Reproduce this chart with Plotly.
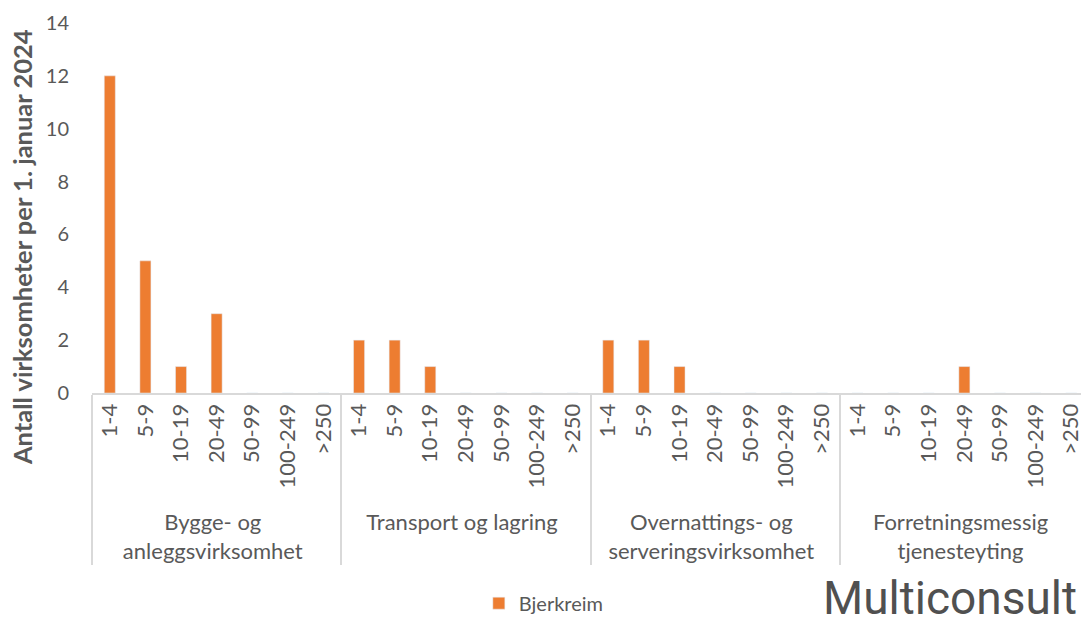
import plotly.graph_objects as go

# Data
bransjer = [
    "Bygge- og<br>anleggsvirksomhet",
    "Transport og lagring",
    "Overnattings- og<br>serveringsvirksomhet",
    "Forretningsmessig<br>tjenesteyting",
]
storrelser = ["1-4", "5-9", "10-19", "20-49", "50-99", "100-249", ">250"]
bygge = [12, 5, 1, 3, 0, 0, 0]
transport = [2, 2, 1, 0, 0, 0, 0]
overnatting = [2, 2, 1, 0, 0, 0, 0]
forretning = [0, 0, 0, 1, 0, 0, 0]
y_ticks = [0, 2, 4, 6, 8, 10, 12, 14]

verdier = bygge + transport + overnatting + forretning
gruppe = [b for b in bransjer for _ in storrelser]
kategori = storrelser * len(bransjer)

grå = "#595959"
font = "Lato, Open Sans, sans-serif"

fig = go.Figure()
fig.add_trace(go.Bar(
    x=[gruppe, kategori], y=verdier,
    name="Bjerkreim", marker_color="#ED7D31",
))

# siden får 8px marg i nettleseren, så figuren er 8px mindre
fig.update_layout(
    width=1081, height=620,
    plot_bgcolor="white", paper_bgcolor="white",
    margin=dict(l=84, r=0, t=15, b=235),
    bargap=0.69,
    font=dict(family=font, color=grå, size=20),
    showlegend=True,
    legend=dict(orientation="h", x=0.388, y=-0.568, xanchor="left", yanchor="middle",
                font=dict(size=20, color=grå), itemwidth=30),
    xaxis=dict(
        type="multicategory", tickangle=-90,
        showline=True, linecolor="#d9d9d9", linewidth=2,
        showdividers=True, dividercolor="#d9d9d9", dividerwidth=2,
        ticks="", tickfont=dict(size=22, color=grå),
        automargin=False,
    ),
    yaxis=dict(
        range=[0, 14], tickvals=y_ticks,
        showgrid=False, zeroline=False, showline=False,
        ticks="outside", ticklen=18, tickcolor="white",
        tickfont=dict(size=20, color=grå),
        automargin=False,
    ),
)

# aksetittel som annotasjon for å kunne plassere den som i originalen
fig.add_annotation(
    text="<b>Antall virksomheter per 1. januar 2024</b>", textangle=-90,
    xref="paper", yref="paper", x=-0.070, y=0.395,
    xanchor="center", yanchor="middle", showarrow=False,
    font=dict(size=25.5, color=grå),
)

fig.add_annotation(
    text="Multiconsult", xref="paper", yref="paper", x=0.99, y=-0.555,
    xanchor="right", yanchor="middle", showarrow=False,
    font=dict(family="Liberation Sans Narrow, Roboto, sans-serif", size=46, color="#505050"),
)

fig.write_html("out.html")
